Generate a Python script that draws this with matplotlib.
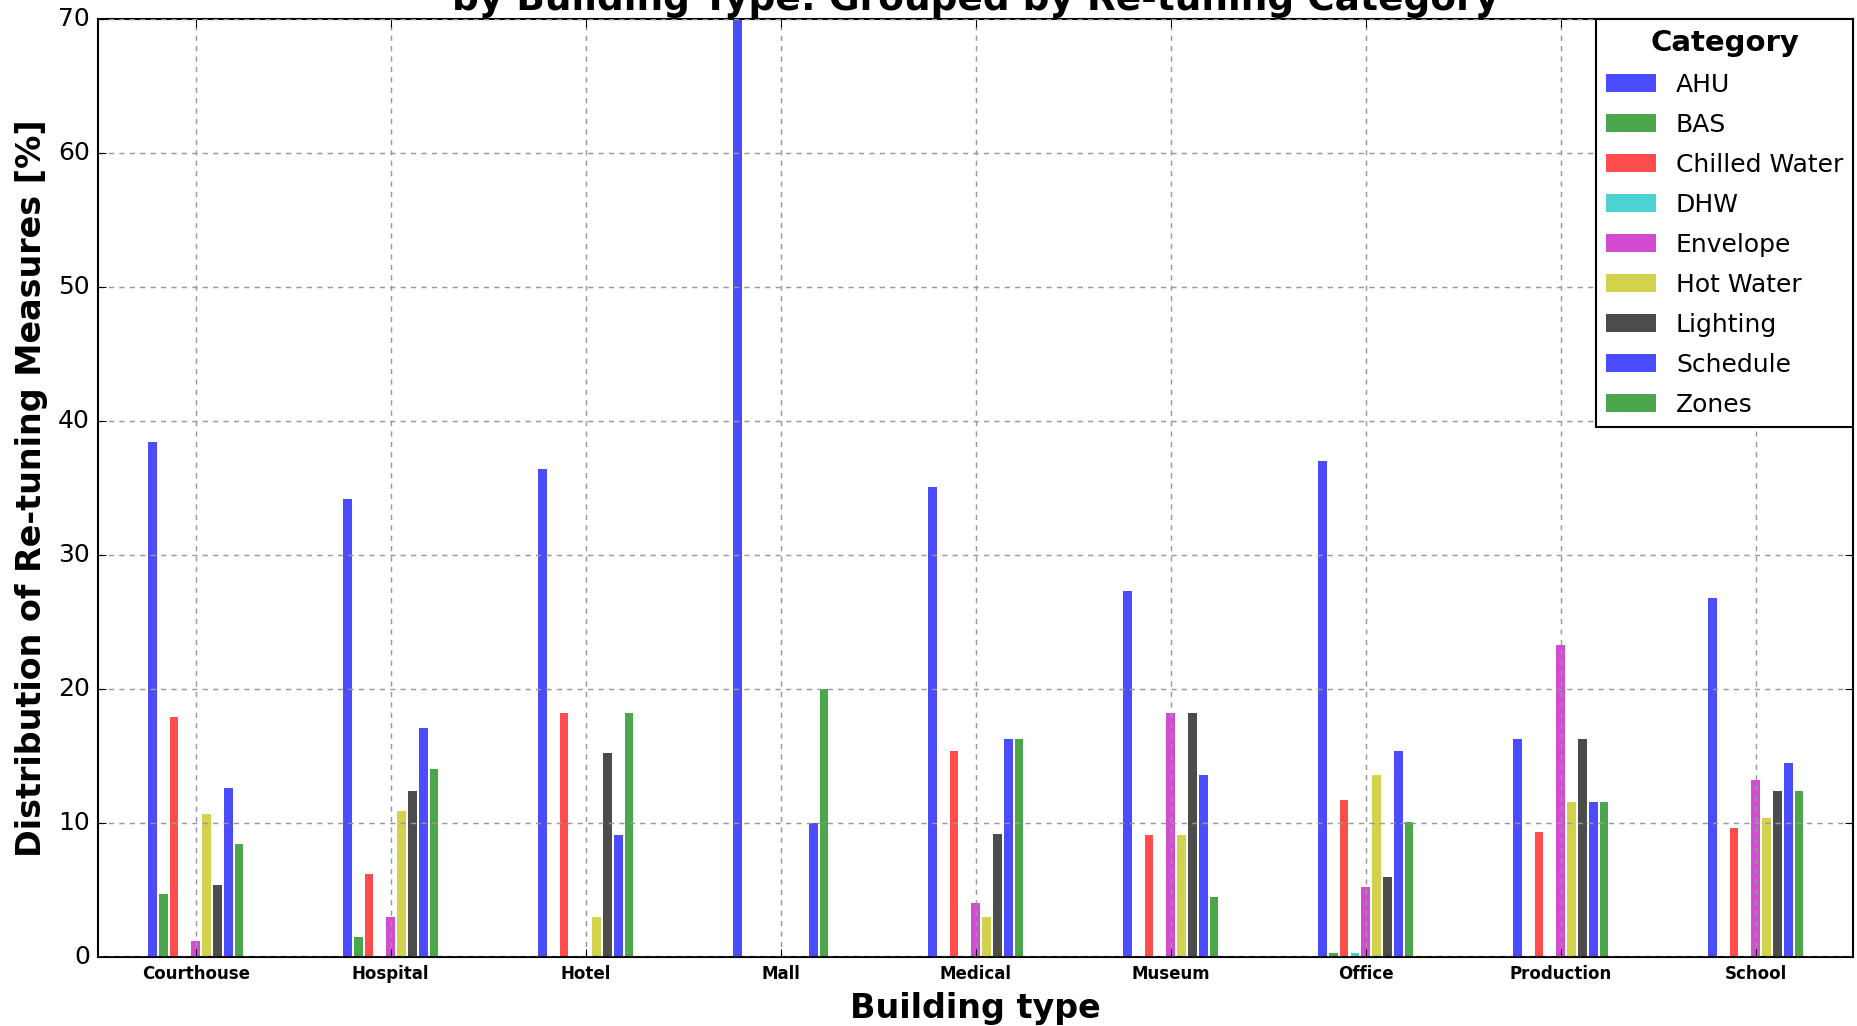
import matplotlib
matplotlib.use("Agg")
import matplotlib.pyplot as plt
import numpy as np

plt.style.use("classic")
plt.rcParams["font.family"] = ["DejaVu Sans"]

BUILDINGS = ["Courthouse", "Hospital", "Hotel", "Mall", "Medical",
             "Museum", "Office", "Production", "School"]
CATEGORIES = ["AHU", "BAS", "Chilled Water", "DHW", "Envelope",
              "Hot Water", "Lighting", "Schedule", "Zones"]

# share of re-tuning measures [%] per category, one value per building type
AHU = [38.4, 34.2, 36.4, 70.0, 35.1, 27.3, 37.0, 16.3, 26.8]
BAS = [4.7, 1.5, 0.0, 0.0, 0.0, 0.0, 0.3, 0.0, 0.0]
CHILLED_WATER = [17.9, 6.2, 18.2, 0.0, 15.4, 9.1, 11.7, 9.3, 9.6]
DHW = [0.0, 0.0, 0.0, 0.0, 0.0, 0.0, 0.3, 0.0, 0.0]
ENVELOPE = [1.2, 3.0, 0.0, 0.0, 4.0, 18.2, 5.2, 23.3, 13.2]
HOT_WATER = [10.7, 10.9, 3.0, 0.0, 3.0, 9.1, 13.6, 11.6, 10.4]
LIGHTING = [5.4, 12.4, 15.2, 0.0, 9.2, 18.2, 6.0, 16.3, 12.4]
SCHEDULE = [12.6, 17.1, 9.1, 10.0, 16.3, 13.6, 15.4, 11.6, 14.5]
ZONES = [8.4, 14.0, 18.2, 20.0, 16.3, 4.5, 10.1, 11.6, 12.4]

SERIES = [AHU, BAS, CHILLED_WATER, DHW, ENVELOPE, HOT_WATER, LIGHTING, SCHEDULE, ZONES]
COLORS = ["b", "g", "r", "c", "m", "y", "k", "b", "g"]


def main() -> None:
    fig, ax = plt.subplots(figsize=(1857 / 150, 1026 / 150), dpi=150, facecolor="w")
    fig.subplots_adjust(left=0.0529, right=0.998, bottom=0.0673, top=0.9815)

    x = np.arange(len(BUILDINGS))
    slot = 0.5 / len(SERIES)
    for k, (name, vals, c) in enumerate(zip(CATEGORIES, SERIES, COLORS)):
        ax.bar(x - 0.25 + slot * (k + 0.5), vals, width=slot * 0.8, align="center",
               color=c, alpha=0.7, linewidth=0, label=name)

    ax.set_xlim(-0.5, len(BUILDINGS) - 0.5)
    ax.set_ylim(0, 70)
    ax.set_xticks(x)
    ax.set_xticklabels(BUILDINGS, fontsize=8, fontweight="bold")
    ax.set_yticks(np.arange(0, 71, 10))
    ax.tick_params(axis="y", labelsize=12)
    ax.grid(True, color="0.6", linestyle=(0, (2.5, 2.5)), linewidth=0.7)
    ax.set_axisbelow(False)

    ax.set_xlabel("Building type", fontsize=16, fontweight="bold", labelpad=4)
    ax.set_ylabel("Distribution of Re-tuning Measures [%]", fontsize=16,
                  fontweight="bold", labelpad=5)
    # upper title line falls outside the canvas, as in the original export
    ax.set_title("by Building Type: Grouped by Re-tuning Category",
                 fontsize=18, fontweight="bold", pad=4.5)

    leg = ax.legend(loc="upper right", borderaxespad=0, fontsize=12, title="Category",
                    title_fontproperties={"weight": "bold", "size": 14},
                    labelspacing=0.64, fancybox=False, framealpha=1)
    leg.get_frame().set_edgecolor("k")

    fig.savefig("out.png", dpi=150, facecolor="w")
    plt.close(fig)


if __name__ == "__main__":
    main()
